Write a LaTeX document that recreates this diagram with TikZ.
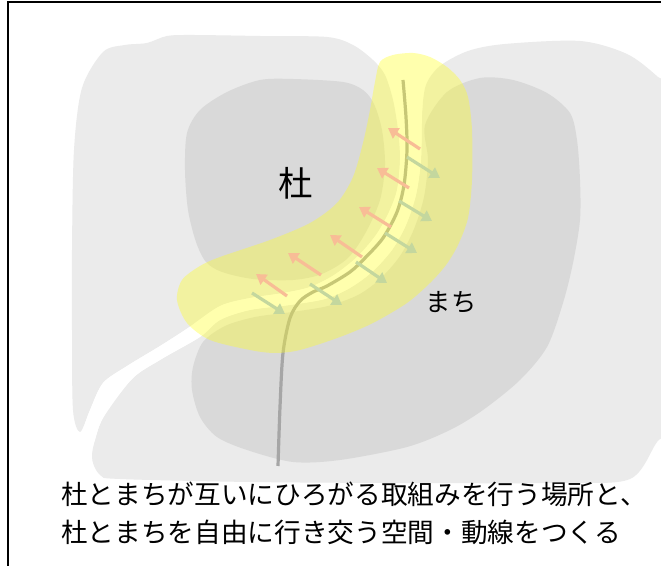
\documentclass[tikz,border=0pt]{standalone}
\usepackage{fontspec}
\newfontfamily\jp{Noto Sans CJK JP}
\usetikzlibrary{arrows.meta}
\definecolor{lightg}{RGB}{235,235,235}
\definecolor{darkg}{RGB}{217,217,217}
\definecolor{pathg}{RGB}{166,166,166}
\definecolor{salmon}{RGB}{248,189,150}
\definecolor{sage}{RGB}{196,215,158}
\definecolor{hl}{RGB}{255,255,40}
\begin{document}
\begin{tikzpicture}[x=0.75pt,y=-0.75pt,
  outerblob/.style={fill=lightg},
  innerblob/.style={fill=darkg},
  gapfill/.style={fill=white},
  band/.style={fill=hl,fill opacity=0.38},
  route/.style={draw=pathg,line width=2.4pt},
  outarrow/.style={draw=salmon,line width=2.4pt,-{Triangle[length=7.5pt,width=9pt]}},
  inarrow/.style={draw=sage,line width=2.4pt,-{Triangle[length=7.5pt,width=9pt]}},
  frameline/.style={draw=black,line width=1.5pt},
  lbl/.style={inner sep=0pt,text=black}
]
\useasboundingbox (0,0) rectangle (661,566);
\fill[white] (0,0) rectangle (661,566);
\begin{scope}
\clip (0,0) rectangle (661,566);
% forest outer
\path[outerblob] plot[smooth cycle] coordinates {
 (80,432) (73,410) (72,330) (72,250) (74,150) (82,88) (103,52) (125,45) (147,43) (167,36) (193,35)
 (260,36) (327,37) (353,45) (373,60) (385,75) (393,100) (398,130) (400,160) (397,190) (389,212)
 (376,235) (357,257) (334,275) (310,287) (283,293) (250,298) (220,306) (188,328) (160,346)
 (127,366) (103,383) (90,410)};
% town outer
\path[outerblob] plot[smooth cycle] coordinates {
 (100,475) (92,455) (103,418) (132,379) (160,360) (200,337) (220,320) (250,310) (290,305)
 (325,299) (350,288) (372,272) (392,250) (406,225) (416,195) (421,160) (422,115) (426,85)
 (440,66) (468,51) (505,44) (580,41) (627,54) (658,77) (680,100) (680,300) (675,420) (657,442)
 (630,479) (560,483) (400,483) (250,482) (120,479)};
% forest inner
\path[innerblob] plot[smooth cycle] coordinates {
 (187,133) (200,110) (227,92) (260,80) (293,79) (343,82) (363,90) (374,104) (382,130) (385,165)
 (380,200) (366,232) (348,258) (322,274) (293,280) (253,279) (222,272) (206,262) (196,242)
 (188,210) (185,170)};
% town inner
\path[innerblob] plot[smooth cycle] coordinates {
 (425,125) (447,92) (480,78) (513,80) (547,93) (570,113) (577,140) (580,180) (580,220) (573,263)
 (563,303) (547,347) (520,380) (483,410) (450,430) (407,447) (340,460) (293,462) (247,450)
 (217,437) (200,417) (192,390) (193,367) (203,342) (225,326) (255,317) (292,312) (328,306)
 (358,295) (380,279) (400,256) (414,229) (424,197) (428,160)};
% white gap between forest and town
\path[gapfill] plot[smooth] coordinates {
 (386,40) (388,75) (395,100) (399,130) (400,160) (397,190) (389,212) (376,235) (357,257)
 (334,275) (310,287) (283,293) (250,298) (220,306) (188,328) (160,346) (127,366) (103,383)
 (90,410) (82,432) (76,445)}
 -- plot[smooth] coordinates {
 (88,462) (95,440) (103,418) (132,379) (160,360) (200,337) (220,320) (250,310) (290,305)
 (325,299) (350,288) (372,272) (392,250) (406,225) (416,195) (421,160) (422,115) (425,85)
 (438,62) (440,40)} -- cycle;
\end{scope}
% route line
\draw[route] plot[smooth] coordinates {
 (403,80) (406,117) (407,150) (404,185) (397,212) (383,238) (365,258) (350,272) (327,286)
 (313,292) (300,301) (290,318) (283,353) (280,407) (278,466)};
% yellow band
\path[band] plot[smooth cycle] coordinates {
 (380,62) (393,55) (413,53) (430,57) (447,67) (460,80) (468,97) (472,130) (472,180) (468,218)
 (458,245) (446,265) (430,283) (407,303) (373,323) (340,337) (300,350) (275,353) (250,350)
 (210,340) (187,323) (177,300) (182,280) (200,266) (220,257) (270,240) (310,223) (337,203)
 (353,177) (363,143) (370,110) (375,82)};
% arrows toward the forest
\foreach \ax/\ay/\bx/\by [count=\i] in {420/149/388/128, 409/188/377/168, 391/227/359/207,
  362/257/330/235, 321/275/288/253, 287/296/256/274}{
  \coordinate (fs\i) at (\ax,\ay); \coordinate (fe\i) at (\bx,\by);
  \draw[outarrow] (fs\i) -- (fe\i);}
% arrows toward the town
\foreach \ax/\ay/\bx/\by [count=\i] in {407/157/440/178, 399/201/432/221, 385/233/417/253,
  356/262/387/283, 310/284/342/305, 252/293/285/314}{
  \coordinate (ts\i) at (\ax,\ay); \coordinate (te\i) at (\bx,\by);
  \draw[inarrow] (ts\i) -- (te\i);}
% labels
\node[lbl,font=\jp\fontsize{26}{30}\selectfont] (mori) at (296,183) {杜};
\node[lbl,font=\jp\fontsize{19}{23}\selectfont] (machi) at (451,302) {まち};
\node[lbl,anchor=west,font=\jp\fontsize{20}{24}\selectfont] (cap1) at (61,494) {杜とまちが互いにひろがる取組みを行う場所と、};
\node[lbl,anchor=west,font=\jp\fontsize{20}{24}\selectfont] (cap2) at (61,532) {杜とまちを自由に行き交う空間・動線をつくる};
% frame
\coordinate (fbl) at (8.3,566);
\coordinate (ftl) at (8.3,1.8);
\coordinate (ftr) at (661,1.8);
\draw[frameline] (fbl) -- (ftl) -- (ftr);
\end{tikzpicture}
\end{document}
